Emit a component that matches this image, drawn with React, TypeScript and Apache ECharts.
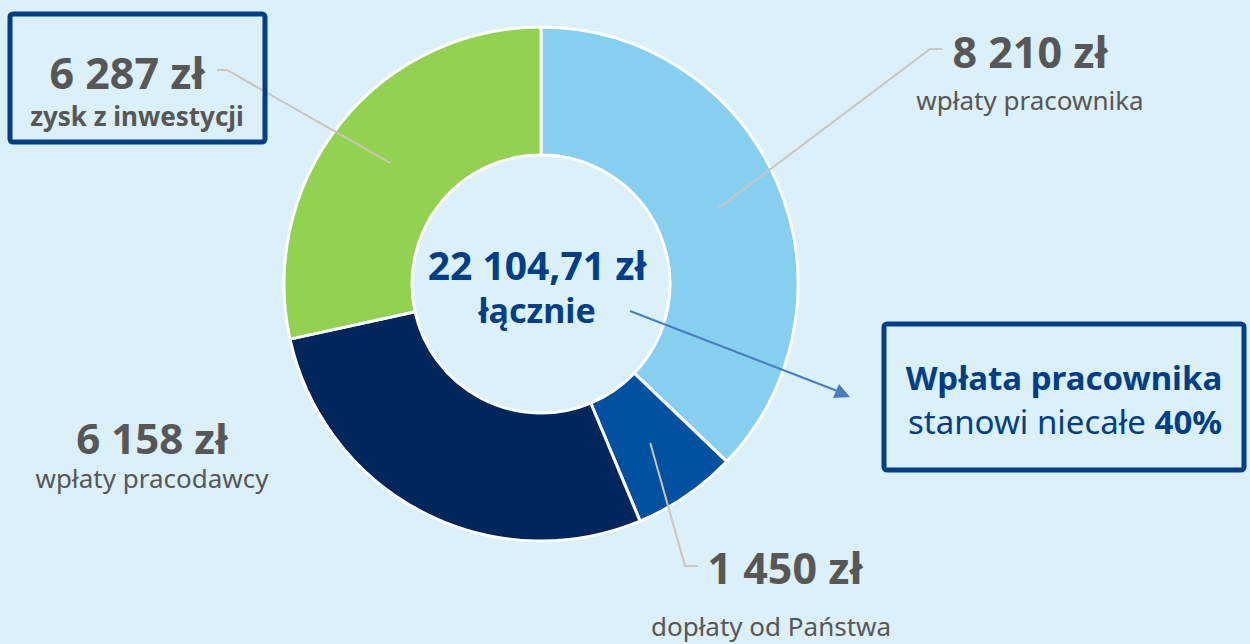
import React, { useEffect, useRef } from "react";
import * as echarts from "echarts";

const categories = ["wpłaty pracownika", "dopłaty od Państwa", "wpłaty pracodawcy", "zysk z inwestycji"];
const values = [8210, 1450, 6158, 6287];
const valueLabels = ["8 210 zł", "1 450 zł", "6 158 zł", "6 287 zł"];
const colors = ["#87cfef", "#0051a0", "#00275c", "#93d150"];
const totalLabel = "22 104,71 zł";
const totalSub = "łącznie";
const noteBold = "Wpłata pracownika";
const noteText = "stanowi niecałe ";
const notePct = "40%";

const FONT = "'Noto Sans', sans-serif";
const CX = 541;
const CY = 284;
const R_IN = 129;
const R_OUT = 257;

// label placement (centers) and leader-line elbows per slice
const labelPos = [
  { x: 1030, y: 76 },
  { x: 785, y: 598 },
  { x: 152, y: 458 },
  { x: 137, y: 94 },
];
const elbows: (number[][] | null)[] = [
  [[930, 49], [942, 49]],
  [[685, 566], [698, 566]],
  null,
  [[227, 70], [217, 70]],
];

export default function App() {
  const ref = useRef<HTMLDivElement>(null);
  useEffect(() => {
    if (!ref.current) return;
    const chart = echarts.init(ref.current, null, { renderer: "svg" });
    const total = values.reduce((a, b) => a + b, 0);
    const midAngles: number[] = [];
    let acc = 0;
    values.forEach((v) => {
      midAngles.push(((acc + v / 2) / total) * Math.PI * 2);
      acc += v;
    });
    const rMid = (R_IN + R_OUT) / 2;

    const richBase = {
      v: { fontFamily: FONT, fontSize: 43, fontWeight: "bold", color: "#575757", lineHeight: 48 },
      n: { fontFamily: FONT, fontSize: 26, color: "#575757", lineHeight: 50 },
    };

    const data = values.map((v, i) => {
      const item: any = {
        name: categories[i],
        value: v,
        itemStyle: { color: colors[i] },
        label: {
          formatter: `{v|${valueLabels[i]}}\n{n|${categories[i]}}`,
          rich: richBase,
        },
      };
      if (i === 1) {
        item.label.rich = {
          v: { ...richBase.v, lineHeight: 56 },
          n: { ...richBase.n, lineHeight: 62, padding: [0, 28, 0, 0] },
        };
      }
      if (i === 2) {
        item.label.rich = {
          v: { ...richBase.v, fontSize: 42, lineHeight: 40 },
          n: { ...richBase.n, lineHeight: 42 },
        };
      }
      if (i === 3) {
        item.label.rich = {
          v: { ...richBase.v, lineHeight: 44, padding: [0, 20, 0, 0] },
          n: { ...richBase.n, fontSize: 26, fontWeight: "bold", lineHeight: 44 },
        };
      }
      return item;
    });

    const leaderLines: any[] = [];
    values.forEach((_, i) => {
      const e = elbows[i];
      if (!e) return;
      const a = midAngles[i];
      const start = [CX + rMid * Math.sin(a), CY - rMid * Math.cos(a)];
      leaderLines.push({
        type: "polyline",
        shape: { points: [start, e[0], e[1]] },
        style: { stroke: "#c9c5c0", lineWidth: 2, fill: "none" },
        z: 10,
      });
    });

    const ax = 850, ay = 397;
    chart.setOption({
      animation: false,
      backgroundColor: "#dbf0f9",
      series: [
        {
          type: "pie",
          center: [CX, CY],
          radius: [R_IN, R_OUT],
          startAngle: 90,
          clockwise: true,
          avoidLabelOverlap: false,
          itemStyle: { borderColor: "#ffffff", borderWidth: 3 },
          label: { show: true, position: "outside" },
          labelLine: { show: false },
          emphasis: { disabled: true },
          labelLayout: (params: any) => {
            const i = params.dataIndex;
            return {
              x: labelPos[i].x,
              y: labelPos[i].y,
              align: "center",
              verticalAlign: "middle",
            };
          },
          data,
        },
      ],
      graphic: [
        ...leaderLines,
        {
          type: "rect",
          shape: { x: 10, y: 14, width: 255, height: 128, r: 3 },
          style: { fill: "none", stroke: "#003f87", lineWidth: 5 },
          z: 10,
        },
        {
          type: "text",
          x: 537,
          y: 264,
          style: {
            text: totalLabel,
            fontFamily: FONT,
            fontSize: 39,
            fontWeight: "bold",
            fill: "#003f87",
            align: "center",
            verticalAlign: "middle",
          },
          z: 10,
        },
        {
          type: "text",
          x: 537,
          y: 310,
          style: {
            text: totalSub,
            fontFamily: FONT,
            fontSize: 34,
            fontWeight: "bold",
            fill: "#003f87",
            align: "center",
            verticalAlign: "middle",
          },
          z: 10,
        },
        {
          type: "line",
          shape: { x1: 630, y1: 311, x2: 840, y2: 392 },
          style: { stroke: "#4a7cc0", lineWidth: 2 },
          z: 10,
        },
        {
          type: "polygon",
          shape: { points: [[ax, ay], [839, 384], [833, 398]] },
          style: { fill: "#4a7cc0" },
          z: 10,
        },
        {
          type: "rect",
          shape: { x: 884, y: 324, width: 360, height: 146, r: 3 },
          style: { fill: "none", stroke: "#003f87", lineWidth: 5 },
          z: 10,
        },
        {
          type: "text",
          x: 1064,
          y: 377,
          style: {
            text: noteBold,
            fontFamily: FONT,
            fontSize: 33,
            fontWeight: "bold",
            fill: "#003f87",
            align: "center",
            verticalAlign: "middle",
          },
          z: 10,
        },
        {
          type: "text",
          x: 1065,
          y: 421,
          style: {
            text: `{r|${noteText}}{b|${notePct}}`,
            align: "center",
            verticalAlign: "middle",
            rich: {
              r: { fontFamily: FONT, fontSize: 33, fill: "#003f87", color: "#003f87" },
              b: { fontFamily: FONT, fontSize: 33, fontWeight: "bold", fill: "#003f87", color: "#003f87" },
            },
          },
          z: 10,
        },
      ],
    });
    return () => chart.dispose();
  }, []);
  return <div ref={ref} style={{ width: 1250, height: 644, position: "absolute", left: 0, top: 0 }} />;
}
